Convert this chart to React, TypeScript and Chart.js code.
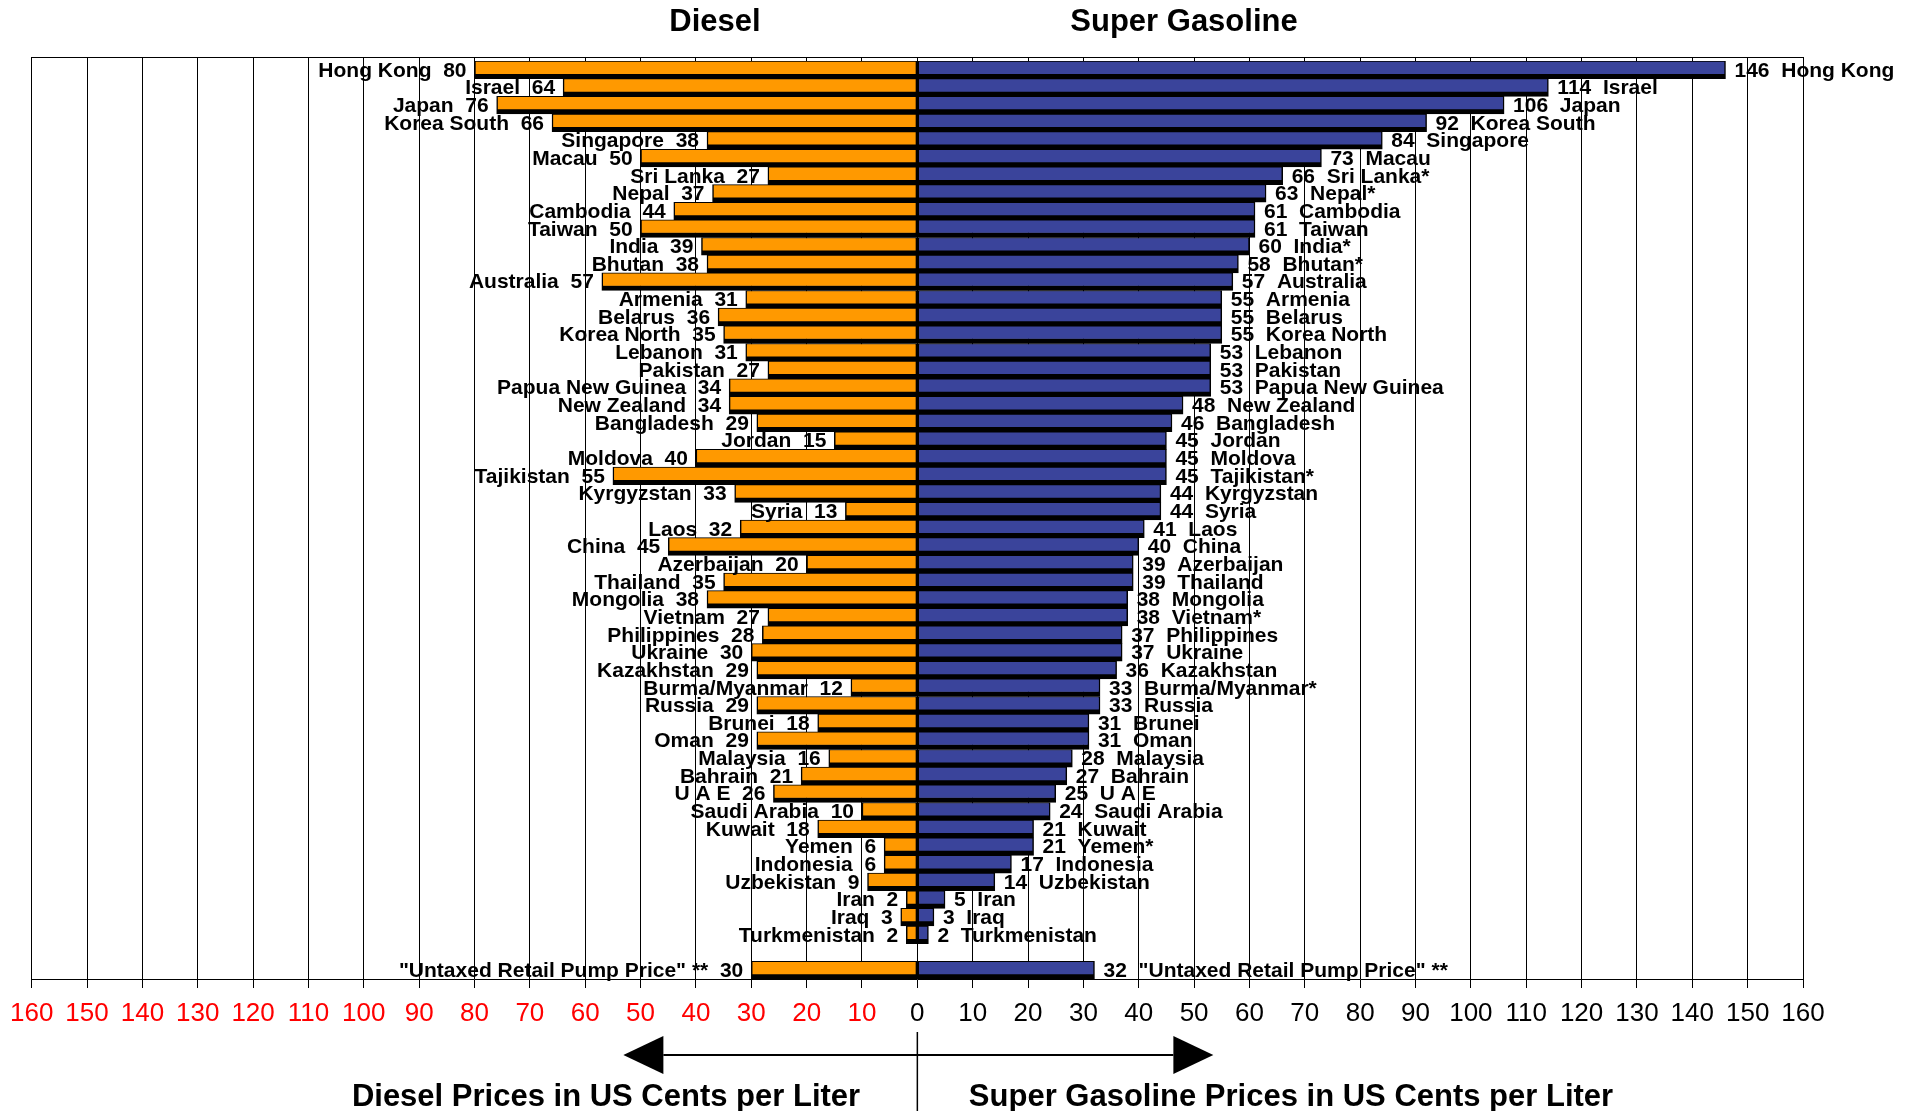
import React, { useEffect, useRef } from 'react';
import { Chart, registerables } from 'chart.js';

Chart.register(...registerables);

// ---------------- DATA ----------------
const countries = [
  'Hong Kong', 'Israel', 'Japan', 'Korea South', 'Singapore', 'Macau', 'Sri Lanka', 'Nepal',
  'Cambodia', 'Taiwan', 'India', 'Bhutan', 'Australia', 'Armenia', 'Belarus', 'Korea North',
  'Lebanon', 'Pakistan', 'Papua New Guinea', 'New Zealand', 'Bangladesh', 'Jordan', 'Moldova',
  'Tajikistan', 'Kyrgyzstan', 'Syria', 'Laos', 'China', 'Azerbaijan', 'Thailand', 'Mongolia',
  'Vietnam', 'Philippines', 'Ukraine', 'Kazakhstan', 'Burma/Myanmar', 'Russia', 'Brunei', 'Oman',
  'Malaysia', 'Bahrain', 'U A E', 'Saudi Arabia', 'Kuwait', 'Yemen', 'Indonesia', 'Uzbekistan',
  'Iran', 'Iraq', 'Turkmenistan',
];

const dieselPrices = [
  80, 64, 76, 66, 38, 50, 27, 37, 44, 50, 39, 38, 57, 31, 36, 35, 31, 27, 34, 34, 29, 15, 40, 55,
  33, 13, 32, 45, 20, 35, 38, 27, 28, 30, 29, 12, 29, 18, 29, 16, 21, 26, 10, 18, 6, 6, 9, 2, 3, 2,
];

const gasolinePrices = [
  146, 114, 106, 92, 84, 73, 66, 63, 61, 61, 60, 58, 57, 55, 55, 55, 53, 53, 53, 48, 46, 45, 45,
  45, 44, 44, 41, 40, 39, 39, 38, 38, 37, 37, 36, 33, 33, 31, 31, 28, 27, 25, 24, 21, 21, 17, 14,
  5, 3, 2,
];

// countries marked with an asterisk on the gasoline side
const gasolineStarred = ['Sri Lanka', 'Nepal', 'India', 'Bhutan', 'Tajikistan', 'Vietnam', 'Burma/Myanmar', 'Yemen'];

const untaxedLabel = '"Untaxed Retail Pump Price" **';
const untaxedDiesel = 30;
const untaxedGasoline = 32;

const axisMax = 160;
const axisStep = 10;

const topLeftTitle = 'Diesel';
const topRightTitle = 'Super Gasoline';
const bottomLeftTitle = 'Diesel Prices in US Cents per Liter';
const bottomRightTitle = 'Super Gasoline Prices in US Cents per Liter';

// ---------------- STYLE ----------------
const FONT = "'Liberation Sans', Arial, Helvetica, sans-serif";
const ORANGE = '#FF9900';
const BLUE = '#3A449B';
const W = 1914;
const H = 1111;
const FRAME_TOP = 57;

const decorPlugin = {
  id: 'decor',
  beforeDatasetsDraw(chart: any) {
    const { ctx, chartArea, scales } = chart;
    const x = scales.x;
    ctx.save();
    ctx.strokeStyle = '#000';
    ctx.lineWidth = 1;
    ctx.beginPath();
    for (const t of x.ticks) {
      const px = Math.round(x.getPixelForValue(t.value) - 0.5) + 0.5;
      ctx.moveTo(px, FRAME_TOP);
      ctx.lineTo(px, chartArea.top);
    }
    ctx.moveTo(chartArea.left, FRAME_TOP + 0.5);
    ctx.lineTo(chartArea.right, FRAME_TOP + 0.5);
    ctx.stroke();
    ctx.restore();
  },
  afterDatasetsDraw(chart: any) {
    const ctx = chart.ctx;
    const labels = chart.data.labels as string[];
    ctx.save();
    ctx.font = `bold 21px ${FONT}`;
    ctx.fillStyle = '#000';
    ctx.textBaseline = 'middle';
    chart.data.datasets.forEach((ds: any, di: number) => {
      const meta = chart.getDatasetMeta(di);
      meta.data.forEach((el: any, i: number) => {
        const v = ds.data[i];
        if (v == null) return;
        const name = labels[i];
        if (di === 0) {
          ctx.textAlign = 'right';
          ctx.fillText(`${name}  ${Math.abs(v)}`, el.x - 8, el.y + 1);
        } else {
          const star = gasolineStarred.includes(name) ? '*' : '';
          ctx.textAlign = 'left';
          ctx.fillText(`${v}  ${name}${star}`, el.x + 9, el.y + 1);
        }
      });
    });
    ctx.restore();
  },
  afterDraw(chart: any) {
    const ctx = chart.ctx;
    const x = chart.scales.x;
    const zx = x.getPixelForValue(0);
    ctx.save();
    // top titles
    ctx.fillStyle = '#000';
    ctx.font = `bold 31px ${FONT}`;
    ctx.textAlign = 'center';
    ctx.textBaseline = 'middle';
    ctx.fillText(topLeftTitle, 715, 22);
    ctx.fillText(topRightTitle, 1184, 22);
    // bottom titles
    ctx.fillText(bottomLeftTitle, 606, 1097);
    ctx.fillText(bottomRightTitle, 1291, 1097);
    // zero divider below axis
    ctx.strokeStyle = '#000';
    ctx.lineWidth = 1.5;
    ctx.beginPath();
    ctx.moveTo(zx, 1032);
    ctx.lineTo(zx, H);
    ctx.stroke();
    // arrow line
    const ay = 1055;
    ctx.lineWidth = 2;
    ctx.beginPath();
    ctx.moveTo(zx - 254, ay);
    ctx.lineTo(zx + 256, ay);
    ctx.stroke();
    // arrow heads
    ctx.beginPath();
    ctx.moveTo(zx - 294, ay);
    ctx.lineTo(zx - 254, ay - 19);
    ctx.lineTo(zx - 254, ay + 19);
    ctx.closePath();
    ctx.fill();
    ctx.beginPath();
    ctx.moveTo(zx + 296, ay);
    ctx.lineTo(zx + 256, ay - 19);
    ctx.lineTo(zx + 256, ay + 19);
    ctx.closePath();
    ctx.fill();
    ctx.restore();
  },
};

export default function App() {
  const canvasRef = useRef<HTMLCanvasElement | null>(null);

  useEffect(() => {
    const canvas = canvasRef.current;
    if (!canvas) return;
    Chart.defaults.font.family = FONT;

    const labels = [...countries, '', untaxedLabel];
    const diesel = [...dieselPrices.map((v) => -v), null, -untaxedDiesel];
    const gasoline = [...gasolinePrices, null, untaxedGasoline];

    const bw = { top: 1, bottom: 5, left: 1.5, right: 1.5 };

    const chart = new Chart(canvas, {
      type: 'bar',
      data: {
        labels,
        datasets: [
          {
            label: 'Diesel',
            data: diesel as any,
            backgroundColor: ORANGE,
            borderColor: '#000',
            borderWidth: bw as any,
            borderSkipped: false,
            barPercentage: 1,
            categoryPercentage: 1,
          },
          {
            label: 'Super Gasoline',
            data: gasoline as any,
            backgroundColor: BLUE,
            borderColor: '#000',
            borderWidth: bw as any,
            borderSkipped: false,
            barPercentage: 1,
            categoryPercentage: 1,
          },
        ],
      },
      options: {
        indexAxis: 'y',
        animation: false,
        responsive: false,
        events: [],
        layout: {
          padding: { top: 61, left: 30, right: W - 1803, bottom: H - 979 - 70 },
        },
        plugins: {
          legend: { display: false },
          tooltip: { enabled: false },
          title: { display: false },
        },
        scales: {
          x: {
            type: 'linear',
            stacked: true,
            min: -axisMax,
            max: axisMax,
            afterFit: (scale: any) => {
              scale.height = 70;
            },
            ticks: {
              stepSize: axisStep,
              autoSkip: false,
              maxRotation: 0,
              padding: 10,
              font: { size: 26, family: FONT },
              color: (ctx: any) => (ctx.tick && ctx.tick.value < 0 ? '#FF0000' : '#000000'),
              callback: (v: any) => String(Math.abs(Number(v))),
            },
            grid: {
              color: '#000',
              lineWidth: 1,
              tickLength: 9,
              drawOnChartArea: true,
              drawTicks: true,
            },
            border: { display: true, color: '#000', width: 1 },
          },
          y: {
            type: 'category',
            stacked: true,
            display: false,
            grid: { display: false },
          },
        },
      },
      plugins: [decorPlugin],
    });

    return () => chart.destroy();
  }, []);

  return (
    <div style={{ position: 'fixed', left: 0, top: 0, width: W, height: H, background: '#fff' }}>
      <canvas ref={canvasRef} width={W} height={H} style={{ display: 'block', width: W, height: H }} />
    </div>
  );
}
